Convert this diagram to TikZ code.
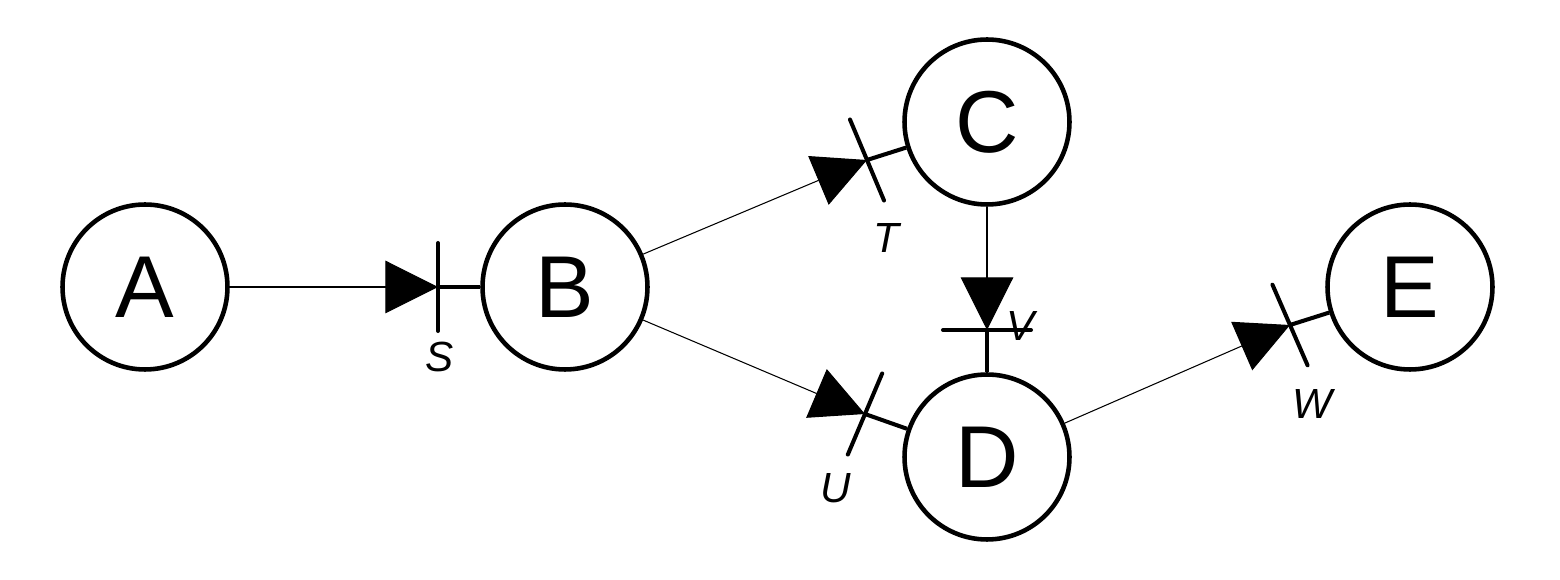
\documentclass[tikz,border=0pt]{standalone}
\usepackage{fontspec}
\setmainfont{Liberation Sans}
\usetikzlibrary{arrows.meta,calc}
\begin{document}
\begin{tikzpicture}[x=0.02cm,y=-0.02cm,
  st/.style={circle,draw,line width=2.6pt,minimum size=3.3cm,inner sep=0pt,font=\fontsize{50}{50}\selectfont},
  thin/.style={line width=0.6pt,-{Triangle[length=30pt,width=30pt]}},
  thk/.style={line width=2.3pt},
  lab/.style={font=\fontsize{24}{24}\selectfont\itshape}]
\useasboundingbox (0,0) rectangle (1560,580);
\node[st] (A) at (145,287) {A};
\node[st] (B) at (565,287) {B};
\node[st] (C) at (987,122) {C};
\node[st] (D) at (987,457) {D};
\node[st] (E) at (1410,287) {E};
\coordinate (s) at (438,287);
\coordinate (t) at (867,160);
\coordinate (u) at (865,414);
\coordinate (v) at (987,330);
\coordinate (w) at (1290,325);
\draw[thin] (A) -- (s);
\draw[thin] (B) -- (t);
\draw[thin] (B) -- (u);
\draw[thin] (C) -- (v);
\draw[thin] (D) -- (w);
\draw[thk] (s) -- (B);
\draw[thk] (t) -- (C);
\draw[thk] (u) -- (D);
\draw[thk] (v) -- (D);
\draw[thk] (w) -- (E);
\foreach \p/\q in {s/A,t/B,u/B,v/C,w/D}{
  \draw[thk,line cap=round] ($(\p)!0.88cm!90:(\q)$) -- ($(\p)!0.88cm!-90:(\q)$);
}
\node[lab] (ls) at (440,357) {S};
\node[lab] (lt) at (886,238) {T};
\node[lab] (lu) at (836,488) {U};
\node[lab] (lv) at (1021,326) {V};
\node[lab] (lw) at (1312,404) {W};
\end{tikzpicture}
\end{document}
